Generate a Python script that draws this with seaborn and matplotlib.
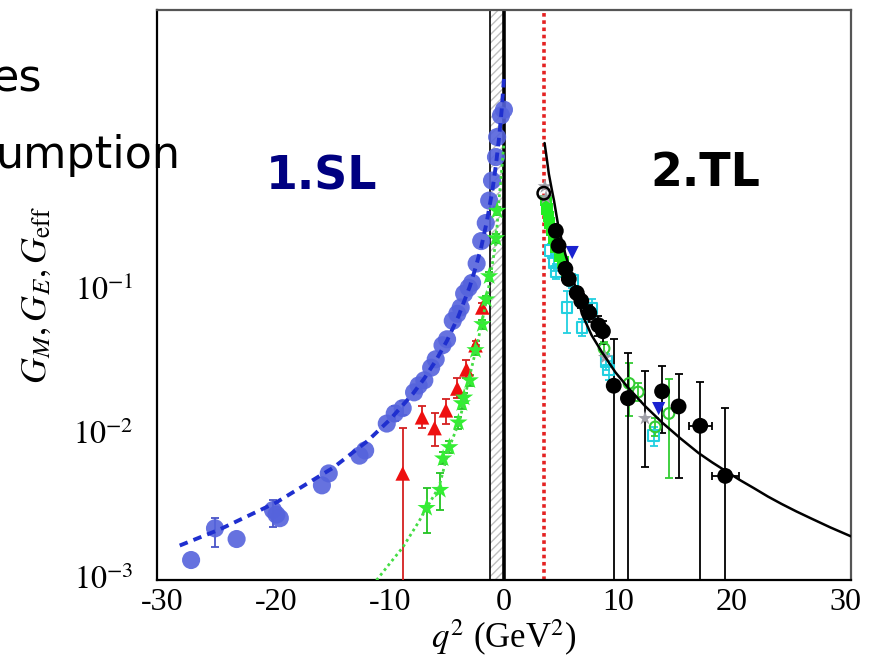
import numpy as np
import pandas as pd
import matplotlib
matplotlib.use("Agg")
import matplotlib.pyplot as plt
import matplotlib.ticker as mticker
import seaborn as sns

# ------------------------
# DATA
# ------------------------
# space-like, G_M (blue circles) and its dashed fit
sl_gm_q2 = [-27.5, -25.4, -23.5, -20.3, -20.0, -19.7, -16.0, -15.4, -12.7, -12.2,
            -10.3, -9.6, -8.9, -7.9, -7.5, -7.0, -6.4, -6.0, -5.4, -5.0,
            -4.5, -4.1, -3.8, -3.5, -3.1, -2.8, -2.4, -2.0, -1.6, -1.3,
            -1.05, -0.7, -0.6, -0.26, 0.0]
sl_gm_val = [1.31e-3, 2.17e-3, 1.83e-3, 2.9e-3, 2.7e-3, 2.55e-3, 4.3e-3, 5.2e-3, 6.9e-3, 7.5e-3,
             0.0115, 0.0135, 0.0147, 0.0189, 0.0211, 0.0229, 0.028, 0.032, 0.040, 0.044,
             0.059, 0.066, 0.073, 0.091, 0.100, 0.108, 0.147, 0.21, 0.28, 0.40,
             0.55, 0.80, 1.10, 1.55, 1.70]
sl_gm_err_q2 = [-25.4, -20.3, -9.6, -8.9]
sl_gm_err_val = [2.17e-3, 2.9e-3, 0.0135, 0.0147]
sl_gm_err_lo = [1.61e-3, 2.2e-3, 0.0120, 0.0132]
sl_gm_err_hi = [2.55e-3, 3.4e-3, 0.0152, 0.0164]

sl_gm_fit_q2 = [-28.5, -25, -20, -15, -12, -10, -8, -7, -6, -5, -4, -3, -2.5, -2,
                -1.5, -1, -0.7, -0.4, -0.2, 0.0]
sl_gm_fit_val = [1.65e-3, 2.13e-3, 3.28e-3, 5.7e-3, 8.7e-3, 0.0123, 0.0185, 0.0236, 0.0312,
                 0.0431, 0.0634, 0.102, 0.137, 0.19, 0.288, 0.48, 0.71, 1.14, 1.70, 2.79]

# space-like, G_E (green stars) and its dotted fit
sl_ge_q2 = [-6.8, -5.6, -5.35, -4.8, -4.0, -3.7, -3.5, -3.0, -2.5, -1.9, -1.55, -1.3, -0.7, -0.6]
sl_ge_val = [3.0e-3, 4.0e-3, 6.6e-3, 7.9e-3, 0.0117, 0.0159, 0.0174, 0.0229, 0.037, 0.056,
             0.083, 0.12, 0.22, 0.34]
sl_ge_lo = [2.0e-3, 2.9e-3, 6.0e-3, 7.2e-3, 0.0106, 0.0146, 0.016, 0.021, 0.034, 0.052,
            0.078, 0.112, 0.205, 0.32]
sl_ge_hi = [4.1e-3, 5.2e-3, 7.3e-3, 8.7e-3, 0.0128, 0.0172, 0.0188, 0.025, 0.040, 0.060,
            0.088, 0.128, 0.235, 0.36]

sl_ge_fit_q2 = [-11.2, -10, -8.9, -7.5, -6.8, -5.7, -4.8, -3.9, -3.1, -2.4, -1.5, -0.7, -0.44, -0.2, 0.0]
sl_ge_fit_val = [9.5e-4, 1.25e-3, 1.6e-3, 2.4e-3, 3.0e-3, 4.2e-3, 7.9e-3, 0.012, 0.023, 0.039,
                 0.084, 0.21, 0.40, 0.65, 1.0]

# space-like, polarisation G_E (red triangles)
sl_pol_q2 = [-8.9, -7.2, -6.1, -5.1, -4.1, -3.3, -2.5, -1.9]
sl_pol_val = [5.2e-3, 0.0127, 0.0107, 0.0142, 0.0201, 0.0272, 0.040, 0.073]
sl_pol_lo = [5e-4, 0.0107, 0.0081, 0.0115, 0.0174, 0.0239, 0.037, 0.068]
sl_pol_hi = [0.0107, 0.0151, 0.0135, 0.0171, 0.0236, 0.0314, 0.043, 0.078]

# time-like fit (black solid)
tl_fit_q2 = [3.57, 3.7, 3.95, 4.2, 4.4, 4.8, 5.4, 6.3, 6.85, 7.7, 8.6, 9.8, 11.0, 12.4, 13.9,
             15.5, 17.1, 18.3, 19.5, 20.7, 22.0, 23.2, 24.4, 25.7, 27.0, 28.7, 30.5]
tl_fit_val = [1.0, 0.85, 0.61, 0.48, 0.40, 0.26, 0.17, 0.10, 0.066, 0.047, 0.036, 0.026, 0.020,
              0.0152, 0.0117, 0.0091, 0.0072, 0.0062, 0.0054, 0.0047, 0.0041, 0.0036, 0.0032,
              0.00284, 0.00254, 0.0022, 0.00191]

# time-like, black circles
tl_blk_q2 = [4.56, 4.8, 5.4, 5.7, 6.4, 6.8, 7.5, 8.3, 8.7, 9.65, 10.9, 13.9, 15.35, 17.25, 19.45]
tl_blk_val = [0.247, 0.195, 0.135, 0.115, 0.092, 0.081, 0.067, 0.055, 0.050, 0.021, 0.0172,
              0.0192, 0.0151, 0.0111, 0.0050]
tl_blk_lo = [0.235, 0.185, 0.125, 0.105, 0.083, 0.072, 0.058, 0.046, 0.041, 5e-4, 5e-4,
             0.0099, 0.0048, 5e-4, 5e-4]
tl_blk_hi = [0.26, 0.205, 0.145, 0.125, 0.101, 0.09, 0.076, 0.064, 0.059, 0.0445, 0.0352,
             0.0287, 0.0255, 0.0222, 0.0147]
tl_blk_xerr = [0, 0, 0, 0, 0, 0, 0, 0, 0, 0, 0, 0, 0, 1.0, 1.17]
tl_open_q2 = [3.5]
tl_open_val = [0.45]
tl_bar_q2 = [12.4]
tl_bar_val = [0.0125]
tl_bar_lo = [0.0058]
tl_bar_hi = [0.0265]

# time-like, green points
tl_grn_q2 = [3.7, 3.8, 3.9, 4.0, 4.2, 4.4, 4.6, 4.9, 5.2, 5.5]
tl_grn_val = [0.40, 0.35, 0.31, 0.28, 0.25, 0.22, 0.19, 0.165, 0.15, 0.13]
tl_gro_q2 = [8.8, 11.0, 11.8, 13.3, 14.5]
tl_gro_val = [0.038, 0.0218, 0.019, 0.0109, 0.0135]
tl_gro_lo = [0.034, 0.0129, 0.0165, 0.0095, 0.0048]
tl_gro_hi = [0.042, 0.0301, 0.022, 0.0125, 0.0232]

# time-like, cyan open squares
tl_cyn_q2 = [4.1, 4.4, 4.6, 5.55, 6.0, 6.87, 7.75, 9.0, 9.2, 13.15]
tl_cyn_val = [0.18, 0.15, 0.13, 0.073, 0.112, 0.053, 0.072, 0.031, 0.027, 0.0095]
tl_cyn_lo = [0.16, 0.13, 0.115, 0.049, 0.10, 0.046, 0.062, 0.027, 0.023, 0.0081]
tl_cyn_hi = [0.20, 0.17, 0.145, 0.095, 0.125, 0.061, 0.083, 0.035, 0.031, 0.0109]

# time-like, blue and grey points
tl_blu_q2 = [6.0, 13.6]
tl_blu_val = [0.175, 0.0146]
tl_gry_q2 = [3.6, 3.7, 8.9, 12.4]
tl_gry_val = [0.50, 0.42, 0.033, 0.0125]

# ------------------------
# PLOT
# ------------------------
sns.set_style("white")
plt.rcParams["font.family"] = ["Liberation Serif", "DejaVu Serif"]
plt.rcParams["mathtext.fontset"] = "stix"
plt.rcParams["text.color"] = "black"
plt.rcParams["axes.labelcolor"] = "black"

fig = plt.figure(figsize=(8.74, 6.71), dpi=100)
ax = fig.add_axes([0.1796, 0.1356, 0.794, 0.849])
ax.set_yscale("log")


def frame(xs, ys):
    return pd.DataFrame({"q2": xs, "G": ys})


def bars(xs, ys, lo, hi, color, xerr=None, lw=1.3):
    ys = np.array(ys)
    yerr = [ys - np.array(lo), np.array(hi) - ys]
    ax.errorbar(xs, ys, yerr=yerr, xerr=xerr, fmt="none", ecolor=color,
                elinewidth=lw, capsize=3, capthick=lw, zorder=3)


# band and vertical lines
ax.axvspan(-1.25, 0, facecolor="none", hatch="////", edgecolor="#c0c0c0", lw=0, zorder=1)
ax.axvline(-1.25, color="black", lw=1.2, zorder=2)
ax.axvline(0, color="black", lw=2.6, zorder=2)
ax.axvline(3.52, color="#e42222", lw=2.6, ls=(0, (1.0, 1.0)), zorder=2)

# space-like
bars(sl_gm_err_q2, sl_gm_err_val, sl_gm_err_lo, sl_gm_err_hi, "#4a55c8")
sns.scatterplot(data=frame(sl_gm_q2, sl_gm_val), x="q2", y="G", ax=ax, s=170,
                color="#5563dc", alpha=0.9, edgecolor="none", zorder=4)
sns.lineplot(data=frame(sl_gm_fit_q2, sl_gm_fit_val), x="q2", y="G", ax=ax, sort=False,
             estimator=None, color="#1f2fcf", lw=2.8, zorder=5)
ax.lines[-1].set_linestyle((0, (2.2, 1.6)))

bars(sl_pol_q2, sl_pol_val, sl_pol_lo, sl_pol_hi, "#d42020")
sns.scatterplot(data=frame(sl_pol_q2, sl_pol_val), x="q2", y="G", ax=ax, s=110, marker="^",
                color="#ee1010", edgecolor="none", zorder=4)

bars(sl_ge_q2, sl_ge_val, sl_ge_lo, sl_ge_hi, "#22c422")
sns.scatterplot(data=frame(sl_ge_q2, sl_ge_val), x="q2", y="G", ax=ax, s=190, marker="*",
                color="#33ee33", edgecolor="none", zorder=4)
sns.lineplot(data=frame(sl_ge_fit_q2, sl_ge_fit_val), x="q2", y="G", ax=ax, sort=False,
             estimator=None, color="#44dd44", lw=2.0, zorder=5)
ax.lines[-1].set_linestyle((0, (1, 1.2)))

# time-like
bars(tl_cyn_q2, tl_cyn_val, tl_cyn_lo, tl_cyn_hi, "#22d0e0")
sns.scatterplot(data=frame(tl_cyn_q2, tl_cyn_val), x="q2", y="G", ax=ax, s=60, marker="s",
                facecolor="none", edgecolor="#22d0e0", linewidth=1.5, zorder=4)
bars(tl_gro_q2, tl_gro_val, tl_gro_lo, tl_gro_hi, "#33cc33")
sns.scatterplot(data=frame(tl_gro_q2, tl_gro_val), x="q2", y="G", ax=ax, s=60, marker="o",
                facecolor="none", edgecolor="#33cc33", linewidth=1.5, zorder=4)
sns.scatterplot(data=frame(tl_grn_q2, tl_grn_val), x="q2", y="G", ax=ax, s=70, marker="s",
                color="#22ee22", edgecolor="none", zorder=4)
sns.scatterplot(data=frame(tl_gry_q2, tl_gry_val), x="q2", y="G", ax=ax, s=120, marker="*",
                color="#a0a0a8", edgecolor="none", zorder=4)
sns.scatterplot(data=frame(tl_blu_q2, tl_blu_val), x="q2", y="G", ax=ax, s=90, marker="v",
                color="#1a22d0", edgecolor="none", zorder=5)

bars(tl_bar_q2, tl_bar_val, tl_bar_lo, tl_bar_hi, "black")
bars(tl_blk_q2, tl_blk_val, tl_blk_lo, tl_blk_hi, "black", xerr=tl_blk_xerr)
sns.scatterplot(data=frame(tl_blk_q2, tl_blk_val), x="q2", y="G", ax=ax, s=130,
                color="black", edgecolor="none", zorder=6)
sns.scatterplot(data=frame(tl_open_q2, tl_open_val), x="q2", y="G", ax=ax, s=80,
                facecolor="none", edgecolor="black", linewidth=1.8, zorder=6)
sns.lineplot(data=frame(tl_fit_q2, tl_fit_val), x="q2", y="G", ax=ax, sort=False,
             estimator=None, color="black", lw=1.8, zorder=7)

# axes
ax.set_xlim(-30.5, 30.5)
ax.set_ylim(9.53e-4, 8.27)
ax.xaxis.set_major_locator(mticker.MultipleLocator(10))
ax.xaxis.set_minor_locator(mticker.MultipleLocator(2))
ax.xaxis.set_major_formatter(mticker.FuncFormatter(lambda v, p: f"{v:.0f}"))
ax.yaxis.set_major_locator(mticker.FixedLocator([1e-3, 1e-2, 1e-1, 1.0]))
ax.yaxis.set_minor_locator(mticker.LogLocator(base=10, subs=np.arange(2, 10)))
ylabels = {1e-3: "$10^{-3}$", 1e-2: "$10^{-2}$", 1e-1: "$10^{-1}$"}
ax.yaxis.set_major_formatter(mticker.FuncFormatter(lambda v, p: ylabels.get(round(v, 6), "")))
ax.yaxis.set_minor_formatter(mticker.NullFormatter())

ax.tick_params(axis="both", which="both", direction="in", colors="black", labelsize=23,
               top=False, right=False)
ax.tick_params(axis="x", which="major", length=11, width=1.3, pad=6)
ax.tick_params(axis="x", which="minor", length=5, width=1.1)
ax.tick_params(axis="y", which="major", length=15, width=1.3, pad=17)
ax.tick_params(axis="y", which="minor", length=8, width=1.1)
for side in ["left", "bottom"]:
    ax.spines[side].set_color("black")
    ax.spines[side].set_linewidth(1.6)
for side in ["top", "right"]:
    ax.spines[side].set_color("#555555")
    ax.spines[side].set_linewidth(1.6)

ax.set_xlabel("$q^2$ (GeV$^2$)", fontsize=25, labelpad=0)
ax.set_ylabel(r"$G_M, G_E, G_{\mathrm{eff}}$", fontsize=26, labelpad=14)

# region labels and slide text
ax.text(322, 671 - 177, "1.SL", transform=None, fontsize=33, fontweight="bold",
        color="#000080", family="DejaVu Sans", ha="center", va="center")
ax.text(705, 671 - 174, "2.TL", transform=None, fontsize=33, fontweight="bold",
        color="black", family="DejaVu Sans", ha="center", va="center")
fig.text(42 / 874, 1 - 92 / 671, "es", fontsize=32, family="DejaVu Sans",
         color="black", ha="right", va="baseline")
fig.text(180 / 874, 1 - 168 / 671, "umption", fontsize=32, family="DejaVu Sans",
         color="black", ha="right", va="baseline")

fig.savefig("out.png", dpi=100)
